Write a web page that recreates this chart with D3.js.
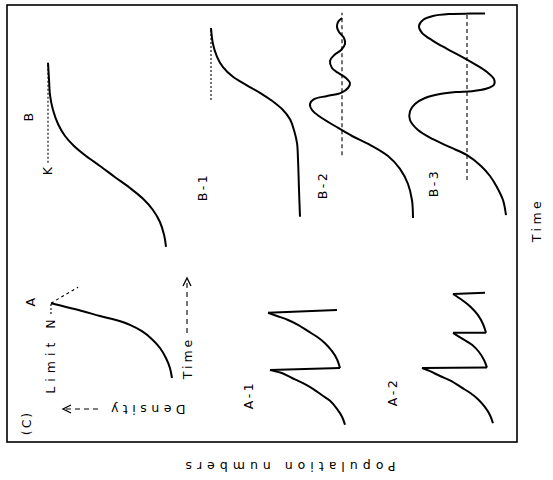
<!DOCTYPE html>
<html>
<head>
<meta charset="utf-8">
<script src="https://cdn.jsdelivr.net/npm/d3@7"></script>
<style>
  body { margin: 0; background: #fff; }
  text { font-family: "DejaVu Sans", sans-serif; font-size: 12.5px; fill: #000; }
</style>
</head>
<body>
<svg id="chart" width="553" height="480"></svg>
<script>
// all curves are [time, density], density in % of the limit (N or K)

// inset A: growth up to limit N
var insetA = [[0.25,6.2],[1.5,7.8],[2.75,10.9],[4,15.5],[5.1,21.7],[6.1,29.5],
  [6.9,38.8],[7.5,49.6],[8,62],[8.6,75.2],[9.1,87.6],[9.6,100]];
var insetLimit = [[8.25,100],[9.6,100]];
var insetBeyond = [[9.6,100],[11.6,79]];

// A-1: growth then crash, twice
var a1Growth = [
  [[0.4,11.5],[1.4,14.9],[2.4,20.7],[3.4,28.7],[4.1,37.9],[4.9,48.3],[5.6,59.8],[6.25,72.4],[6.9,85.1],[7.25,97.7]],
  [[7.5,17.2],[8.6,20.7],[9.6,26.4],[10.6,34.5],[11.4,43.7],[12.1,54],[12.9,65.5],[13.5,77],[14,89.7],[14.4,100]]
];
var a1Crash = [[7.5,17.2],[14.75,20.7]];

// A-2: later crashes come before N is reached
var a2Growth = [
  [[0.6,9],[1.6,12.8],[2.6,19.2],[3.6,28.2],[4.4,38.5],[5.1,50],[5.9,62.8],[6.5,76.9],[7.1,89.7],[7.5,100]],
  [[7.55,16.7],[8.5,20.5],[9.5,26.9],[10.4,35.9],[11.1,47.4],[11.9,60.3]],
  [[11.9,17.9],[13,21.8],[14.1,28.2],[15.1,37.2],[16,48.7],[16.75,60.3]]
];
var a2Crash = [[7.55,16.7],[11.9,17.9],[16.9,19.2]];

// B: logistic growth to K
var bCurve = [[0.4,10.6],[1.9,12.1],[3.5,15.2],[5,20.5],[6.4,28],[7.75,37.9],[9.1,49.2],
  [10.5,60.6],[11.75,71.2],[13,80.3],[14.25,87.1],[15.75,92.4],[17.5,96.2],[19.4,98.5],
  [21.25,99.2],[23.4,100]];
var bK = [10.9, 23.4];

// B-1: long lag, then logistic rise
var b1Curve = [[0.4,10.1],[3.75,11.1],[7.5,12.1],[9.6,13.1],[11.25,16.2],[12.6,20.2],
  [13.75,27.3],[14.9,38.4],[15.9,50.5],[16.9,64.6],[17.9,77.8],[19.1,87.9],[20.4,93.9],
  [22,98],[24,100]];
var b1K = [15, 24];

// B-2: damped oscillation round K
var b2Curve = [[0.25,19.3],[2.5,20.5],[4.5,25],[6.4,34.1],[8,47.7],[9.4,68.2],[10.5,88.6],
  [11.75,108],[12.9,125],[13.75,134],[14.5,136.4],[15.1,131.8],[15.5,117],[15.9,101],
  [16.5,93.2],[17.1,90.9],[17.75,95.5],[18.4,104.5],[19,111.4],[19.9,113.6],[20.6,109],
  [21.25,101],[22,96.6],[22.75,97.7],[23.5,103.4],[24.1,105.7],[24.75,104.5],[25.25,100]];
var b2K = [8.1, 25.9];

// B-3: large oscillation round K
var b3Curve = [[0.6,22],[2.5,28],[4.1,40],[5.5,54],[6.75,72],[8.1,100],[9.1,134],[10.1,168],
  [11.25,198],[12.5,214],[13.6,214],[14.5,204],[15.25,184],[15.75,154],[16,122],[16.1,90],
  [16.4,62],[16.9,46],[17.6,46],[18.5,60],[19.4,82],[20.4,110],[21.4,140],[22.4,168],
  [23.4,190],[24.25,196],[25,188],[25.5,168],[25.75,134],[25.8,94],[25.8,64]];
var b3K = [5, 25.75];

var svg = d3.select("#chart");

// each small panel: time runs up the page, density runs to the left
function panel(y0, xZero, xK) {
  return {
    t: d3.scaleLinear().domain([0, 10]).range([y0, y0 - 80]),
    n: d3.scaleLinear().domain([0, 100]).range([xZero, xK])
  };
}
var pInset = panel(380, 180, 51),
    pA1 = panel(428, 355, 268),
    pA2 = panel(428, 500, 422),
    pB = panel(250, 180, 48),
    pB1 = panel(220, 310, 211),
    pB2 = panel(220, 430, 342),
    pB3 = panel(220, 517, 467);

function smooth(p, data) {
  svg.append("path")
    .attr("d", d3.line().x(function(d) { return p.n(d[1]); })
      .y(function(d) { return p.t(d[0]); })
      .curve(d3.curveCatmullRom.alpha(0.5))(data))
    .attr("fill", "none").attr("stroke", "#000").attr("stroke-width", 2)
    .attr("stroke-linejoin", "round");
}
function straight(p, data, w, dash) {
  svg.append("path")
    .attr("d", d3.line().x(function(d) { return p.n(d[1]); })
      .y(function(d) { return p.t(d[0]); })(data))
    .attr("fill", "none").attr("stroke", "#000").attr("stroke-width", w)
    .attr("stroke-dasharray", dash);
}
function guide(p, span, dash) {
  straight(p, [[span[0],100],[span[1],100]], 1.1, dash);
}
function label(txt, x, y, rot, sp) {
  svg.append("text")
    .attr("transform", "translate(" + x + "," + y + ") rotate(" + rot + ")")
    .attr("text-anchor", "middle")
    .attr("dominant-baseline", "central")
    .style("letter-spacing", (sp || 2.5) + "px")
    .text(txt);
}

// frame
svg.append("rect").attr("x", 7).attr("y", 5).attr("width", 510).attr("height", 437)
  .attr("fill", "none").attr("stroke", "#000").attr("stroke-width", 1.6);

// inset
smooth(pInset, insetA);
straight(pInset, insetLimit, 1.1, "2,2");
straight(pInset, insetBeyond, 1.1, "3,3");

// A-1 and A-2
a1Growth.forEach(function(arc, i) {
  smooth(pA1, arc);
  straight(pA1, [arc[arc.length - 1], a1Crash[i]], 2);
});
a2Growth.forEach(function(arc, i) {
  smooth(pA2, arc);
  straight(pA2, [arc[arc.length - 1], a2Crash[i]], 2);
});

// B series
guide(pB, bK, "2,2");
smooth(pB, bCurve);
guide(pB1, b1K, "2,2");
smooth(pB1, b1Curve);
guide(pB2, b2K, "4,3");
smooth(pB2, b2Curve);
guide(pB3, b3K, "4,3");
smooth(pB3, b3Curve);

// inset arrows
svg.append("line").attr("x1", 187).attr("y1", 333).attr("x2", 187).attr("y2", 280)
  .attr("stroke", "#000").attr("stroke-width", 1.1).attr("stroke-dasharray", "5,4");
svg.append("path").attr("d", "M183,286L187,278L191,286")
  .attr("fill", "none").attr("stroke", "#000").attr("stroke-width", 1.3);
svg.append("line").attr("x1", 98).attr("y1", 409).attr("x2", 65).attr("y2", 409)
  .attr("stroke", "#000").attr("stroke-width", 1.1).attr("stroke-dasharray", "5,4");
svg.append("path").attr("d", "M71,405L63,409L71,413")
  .attr("fill", "none").attr("stroke", "#000").attr("stroke-width", 1.3);

// labels
label("(C)", 26, 423, -90, 2);
label("A", 30, 301, -90);
label("Limit N", 50, 354, -90, 5);
label("Density", 146, 409, 180, 4.5);
label("Time", 187, 358, -90, 3);
label("A-1", 248, 395, -90);
label("A-2", 392, 392, -90);
label("B", 28, 116, -90);
label("K", 47, 170, -90);
label("B-1", 202, 187, -90);
label("B-2", 322, 185, -90);
label("B-3", 433, 183, -90);
label("Population numbers", 288, 466, 180, 5);
label("Time", 536, 220, -90, 3.5);
</script>
</body>
</html>
